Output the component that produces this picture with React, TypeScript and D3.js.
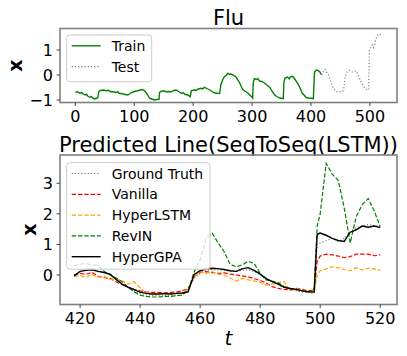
import React from "react";
import * as d3 from "d3";

const W = 407;
const H = 356;
const FONT = "DejaVu Sans";

// Flu training part as [t, x]
const trainPts: [number, number][] = [
  [0, -0.7], [3, -0.66], [5, -0.7], [9, -0.73], [11, -0.7], [13, -0.75], [17, -0.8], [19, -0.77], [21, -0.84],
  [25, -0.89], [27, -0.86], [29, -0.92], [33, -0.96], [36, -0.93], [38, -0.92], [40, -0.66], [43, -0.62],
  [48, -0.6], [53, -0.63], [56, -0.61], [59, -0.66], [65, -0.68], [70, -0.7], [72, -0.67], [74, -0.73],
  [80, -0.75], [85, -0.78], [89, -0.8], [92, -0.76], [95, -0.71], [100, -0.66], [106, -0.63], [110, -0.6],
  [114, -0.58], [117, -0.62], [120, -0.7], [123, -0.8], [126, -0.93], [130, -0.96], [134, -1.0], [138, -0.98],
  [142, -0.97], [143, -0.7], [145, -0.66], [151, -0.63], [154, -0.67], [157, -0.66], [163, -0.67], [167, -0.62],
  [171, -0.6], [176, -0.67], [180, -0.73], [183, -0.71], [186, -0.77], [191, -0.8], [195, -0.87], [197, -0.62],
  [202, -0.6], [205, -0.62], [208, -0.57], [213, -0.53], [216, -0.56], [219, -0.49], [224, -0.55], [228, -0.6],
  [232, -0.66], [236, -0.71], [241, -0.73], [245, -0.74], [247, -0.4], [250, -0.2], [253, -0.07], [256, -0.02],
  [259, 0.07], [262, 0.02], [264, 0.04], [268, 0.0], [273, -0.09], [276, -0.2], [279, -0.32], [282, -0.48],
  [285, -0.6], [289, -0.66], [293, -0.72], [296, -0.8], [299, -0.86], [301, -0.92], [302, -0.3], [304, -0.15],
  [308, -0.18], [310, -0.14], [312, -0.23], [316, -0.26], [321, -0.32], [325, -0.4], [330, -0.49], [334, -0.65],
  [338, -0.79], [342, -0.86], [347, -0.92], [353, -0.95], [354, -0.3], [356, -0.12], [360, -0.08], [363, -0.15],
  [365, -0.07], [369, -0.05], [373, -0.18], [378, -0.35], [382, -0.55], [385, -0.72], [389, -0.82], [392, -0.9],
  [396, -0.92], [400, -0.93], [404, -0.95], [406, 0.12], [409, 0.2], [412, 0.18], [415, 0.12], [418, 0.0],
];

// prediction window (also the test part of the top chart)
const predT = [
  418, 420, 422, 424, 426, 428, 430, 432, 434, 436, 438, 440, 442, 444, 446, 448, 450, 452, 454, 456,
  458, 460, 462, 464, 466, 468, 470, 472, 474, 476, 478, 480, 482, 484, 486, 488, 490, 492, 494, 496,
  498, 499, 500, 502, 504, 506, 508, 510, 512, 514, 516, 518, 520,
];
const groundTruth = [
  0.0, 0.1, 0.2, 0.22, 0.12, 0.08, 0.0, -0.15, -0.3, -0.42, -0.52, -0.6, -0.65, -0.67, -0.68, -0.67, -0.66, -0.66, -0.65, -0.5,
  -0.1, 0.05, 0.15, 0.18, 0.17, 0.15, 0.12, 0.12, 0.15, 0.17, 0.12, 0.02, -0.1, -0.22, -0.32, -0.4, -0.48, -0.52, -0.56, -0.58,
  -0.6, 1.0, 1.05, 1.12, 1.2, 1.1, 1.2, 1.42, 1.55, 1.6, 1.65, 1.62, 1.6,
];
const vanilla = [
  0.0, 0.05, 0.02, 0.09, -0.05, -0.09, -0.11, -0.22, -0.32, -0.4, -0.47, -0.52, -0.55, -0.57, -0.57, -0.58, -0.57, -0.56, -0.52, -0.45,
  -0.05, 0.08, 0.11, 0.08, 0.05, 0.07, 0.03, 0.0, -0.03, -0.06, -0.12, -0.18, -0.26, -0.38, -0.44, -0.47, -0.49, -0.44, -0.47, -0.52,
  -0.49, 0.44, 0.62, 0.68, 0.66, 0.62, 0.57, 0.6, 0.68, 0.68, 0.68, 0.63, 0.66,
];
const hyperLSTM = [
  -0.05, -0.02, -0.08, 0.02, -0.07, -0.03, -0.15, -0.12, -0.2, -0.3, -0.22, -0.42, -0.58, -0.6, -0.62, -0.6, -0.61, -0.6, -0.58, -0.47,
  -0.05, 0.1, 0.05, 0.11, 0.03, 0.0, -0.1, -0.2, -0.11, -0.16, -0.2, -0.24, -0.33, -0.3, -0.25, -0.22, -0.52, -0.44, -0.5, -0.55,
  -0.55, 0.0, 0.14, 0.2, 0.27, 0.24, 0.18, 0.14, 0.24, 0.16, 0.22, 0.2, 0.15,
];
const revIN = [
  0.3, 0.35, 0.38, 0.33, 0.3, 0.12, 0.0, -0.1, -0.22, -0.4, -0.55, -0.66, -0.7, -0.72, -0.72, -0.7, -0.7, -0.68, -0.66, -0.5,
  0.1, 0.5, 1.2, 1.37, 1.05, 0.76, 0.35, 0.27, 0.33, 0.45, 0.38, 0.05, -0.16, -0.2, -0.25, -0.38, -0.44, -0.48, -0.52, -0.55,
  -0.45, 1.6, 2.0, 3.65, 3.3, 3.1, 2.2, 1.05, 1.9, 2.3, 2.5, 2.1, 1.58,
];
const hyperGPA = [
  -0.03, 0.12, 0.15, 0.17, 0.12, 0.08, 0.03, -0.15, -0.3, -0.4, -0.48, -0.56, -0.6, -0.62, -0.62, -0.61, -0.62, -0.6, -0.59, -0.55,
  0.02, 0.14, 0.2, 0.22, 0.21, 0.18, 0.14, 0.12, 0.2, 0.24, 0.15, 0.03, -0.12, -0.22, -0.3, -0.4, -0.44, -0.47, -0.52, -0.55,
  -0.56, 1.33, 1.37, 1.3, 1.2, 1.13, 1.1, 1.4, 1.48, 1.6, 1.56, 1.6, 1.55,
];

const topXTicks = [0, 100, 200, 300, 400, 500];
const topYTicks = [-1, 0, 1];
const botXTicks = [420, 440, 460, 480, 500, 520];
const botYTicks = [0, 1, 2, 3];

type Style = { color: string; width: number; dash?: string };
const styles: Record<string, Style> = {
  train: { color: "green", width: 1.4 },
  test: { color: "gray", width: 1.2, dash: "1.2,2" },
  gt: { color: "gray", width: 1.2, dash: "1.2,2" },
  vanilla: { color: "red", width: 1.2, dash: "4.4,1.9" },
  hyperlstm: { color: "orange", width: 1.2, dash: "4.4,1.9" },
  revin: { color: "green", width: 1.2, dash: "4.4,1.9" },
  hypergpa: { color: "black", width: 1.4 },
};

const predSeries = [
  { label: "Ground Truth", values: groundTruth, style: styles.gt },
  { label: "Vanilla", values: vanilla, style: styles.vanilla },
  { label: "HyperLSTM", values: hyperLSTM, style: styles.hyperlstm },
  { label: "RevIN", values: revIN, style: styles.revin },
  { label: "HyperGPA", values: hyperGPA, style: styles.hypergpa },
];

const fmt = (v: number) => (v < 0 ? "\u2212" + Math.abs(v) : String(v));

const Frame = ({ x, y, xTicks, yTicks }: any) => {
  const [l, r] = x.range();
  const [b, t] = y.range();
  return (
    <g fontFamily={FONT} fontSize={16} fill="black">
      <rect x={l} y={t} width={r - l} height={b - t} fill="none" stroke="#808080" strokeWidth={1.6} />
      {xTicks.map((d: number) => (
        <g key={"x" + d}>
          <line x1={x(d)} x2={x(d)} y1={b} y2={b + 3.5} stroke="#444" strokeWidth={1} />
          <text x={x(d)} y={b + 19} textAnchor="middle">{fmt(d)}</text>
        </g>
      ))}
      {yTicks.map((d: number) => (
        <g key={"y" + d}>
          <line x1={l - 3.5} x2={l} y1={y(d)} y2={y(d)} stroke="#444" strokeWidth={1} />
          <text x={l - 7} y={y(d) + 6} textAnchor="end">{fmt(d)}</text>
        </g>
      ))}
    </g>
  );
};

const Legend = ({ x, y, w, h, items }: any) => (
  <g fontFamily={FONT} fontSize={14}>
    <rect x={x} y={y} width={w} height={h} rx={3} fill="white" fillOpacity={0.8} stroke="#cccccc" strokeWidth={1} />
    {items.map((it: any, i: number) => {
      const cy = y + 10.8 + i * 20.8;
      return (
        <g key={it.label}>
          <line x1={x + 5} x2={x + 34} y1={cy} y2={cy} stroke={it.style.color} strokeWidth={it.style.width}
            strokeDasharray={it.style.dash} />
          <text x={x + 45} y={cy + 5} fill="black">{it.label}</text>
        </g>
      );
    })}
  </g>
);

export default function App() {
  // top panel
  const tx = d3.scaleLinear().domain([-26, 546]).range([60, 397]);
  const ty = d3.scaleLinear().domain([-1.1, 1.86]).range([102.5, 28.5]);
  const topLine = d3.line<[number, number]>().x((d) => tx(d[0])).y((d) => ty(d[1]));
  const testPts: [number, number][] = predT.map((t, i) => [t, groundTruth[i]]);

  // bottom panel
  const bx = d3.scaleLinear().domain([413.3, 525.6]).range([60, 397]);
  const by = d3.scaleLinear().domain([-0.965, 3.925]).range([304.5, 155]);
  const botLine = d3.line<number>().x((_, i) => bx(predT[i])).y((d) => by(d));

  return (
    <svg width={W} height={H} style={{ position: "absolute", left: 0, top: 0, background: "white" }}>
      <rect width={W} height={H} fill="white" />

      {/* top: Flu */}
      <text x={228.5} y={25} textAnchor="middle" fontFamily={FONT} fontSize={21}>Flu</text>
      <path d={topLine(trainPts) ?? ""} fill="none" stroke={styles.train.color} strokeWidth={styles.train.width} />
      <path d={topLine(testPts) ?? ""} fill="none" stroke={styles.test.color} strokeWidth={styles.test.width}
        strokeDasharray={styles.test.dash} />
      <Frame x={tx} y={ty} xTicks={topXTicks} yTicks={topYTicks} />
      <Legend x={66.7} y={35} w={85} h={46.7}
        items={[{ label: "Train", style: styles.train }, { label: "Test", style: styles.test }]} />
      <text transform="translate(22,65.5) rotate(-90)" textAnchor="middle" fontFamily={FONT} fontSize={19}
        fontWeight="bold">x</text>

      {/* bottom: predictions */}
      <text x={228.5} y={151.5} textAnchor="middle" fontFamily={FONT} fontSize={21}>
        Predicted Line(SeqToSeq(LSTM))
      </text>
      {predSeries.map((s) => (
        <path key={s.label} d={botLine(s.values) ?? ""} fill="none" stroke={s.style.color}
          strokeWidth={s.style.width} strokeDasharray={s.style.dash} />
      ))}
      <Frame x={bx} y={by} xTicks={botXTicks} yTicks={botYTicks} />
      <Legend x={66.7} y={162.7} w={143.3} h={106.5} items={predSeries} />
      <text transform="translate(36,229.7) rotate(-90)" textAnchor="middle" fontFamily={FONT} fontSize={19}
        fontWeight="bold">x</text>
      <text x={228.5} y={345} textAnchor="middle" fontFamily={FONT} fontSize={20} fontStyle="italic">t</text>
    </svg>
  );
}
